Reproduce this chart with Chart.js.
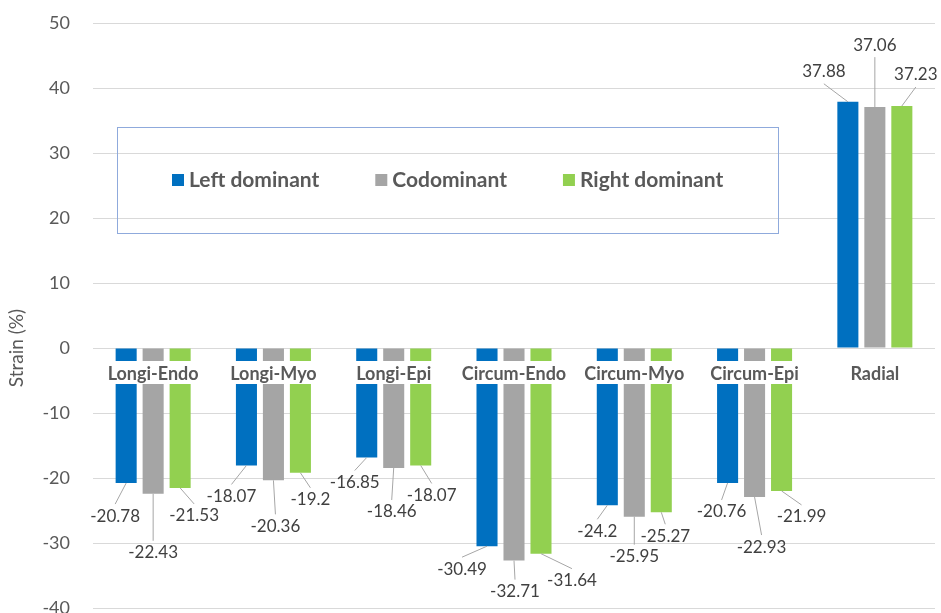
<!DOCTYPE html>
<html>
<head>
<meta charset="utf-8">
<style>
  html, body { margin: 0; padding: 0; background: #fff; }
  #wrap { width: 941px; height: 613px; }
</style>
<script src="https://cdn.jsdelivr.net/npm/chart.js@4.4.1/dist/chart.umd.min.js"></script>
</head>
<body>
<div id="wrap"><canvas id="chart"></canvas></div>
<script>
const categories = ['Longi-Endo', 'Longi-Myo', 'Longi-Epi', 'Circum-Endo', 'Circum-Myo', 'Circum-Epi', 'Radial'];
const leftDominant = [-20.78, -18.07, -16.85, -30.49, -24.2, -20.76, 37.88];
const codominant = [-22.43, -20.36, -18.46, -32.71, -25.95, -22.93, 37.06];
const rightDominant = [-21.53, -19.2, -18.07, -31.64, -25.27, -21.99, 37.23];
const yMin = -40;
const yMax = 50;
const yStep = 10;

// where each data label sits relative to its bar end (manually placed, like the original)
const leftLabelOffsets = [[-11, 33], [-15, 31], [-12, 25], [-25, 23], [-10, 26], [-6, 29], [-24, -30]];
const coLabelOffsets = [[0, 59], [2, 46], [-2, 44], [1, 31], [0, 40], [7, 50], [0, -62]];
const rightLabelOffsets = [[14, 28], [10, 27], [11, 30], [31, 27], [4, 24], [20, 26], [14, -31]];

const FONT = 'Lato, "Open Sans", sans-serif';
const TEXT = '#595959';

const categoryLabels = {
  id: 'categoryLabels',
  afterDatasetsDraw(chart) {
    const { ctx, scales } = chart;
    const y0 = scales.y.getPixelForValue(0);
    ctx.save();
    ctx.font = 'bold 18px ' + FONT;
    ctx.textAlign = 'center';
    ctx.textBaseline = 'middle';
    chart.data.labels.forEach((label, i) => {
      const x = scales.x.getPixelForValue(i);
      const w = ctx.measureText(label).width;
      ctx.fillStyle = '#fff';
      ctx.fillRect(x - w / 2 - 3, y0 + 13, w + 6, 23);
      ctx.fillStyle = TEXT;
      ctx.fillText(label, x, y0 + 26);
    });
    ctx.restore();
  }
};

const dataLabels = {
  id: 'dataLabels',
  afterDatasetsDraw(chart) {
    const { ctx } = chart;
    ctx.save();
    ctx.font = '17px ' + FONT;
    ctx.textAlign = 'center';
    ctx.textBaseline = 'middle';
    chart.data.datasets.forEach((ds, i) => {
      chart.getDatasetMeta(i).data.forEach((bar, j) => {
        const v = ds.data[j];
        const [dx, dy] = ds.labelOffsets[j];
        const lx = bar.x + dx;
        const ly = bar.y + dy;
        const ey = ly - Math.sign(dy) * 12;
        if (Math.hypot(lx - bar.x, ey - bar.y) > 6) {
          ctx.strokeStyle = '#A6A6A6';
          ctx.lineWidth = 1;
          ctx.beginPath();
          ctx.moveTo(bar.x, bar.y);
          ctx.lineTo(lx, ey);
          ctx.stroke();
        }
        ctx.fillStyle = '#404040';
        ctx.fillText(String(v), lx, ly);
      });
    });
    ctx.restore();
  }
};

const boxLegend = {
  id: 'boxLegend',
  afterDraw(chart) {
    const { ctx, chartArea } = chart;
    const left = chartArea.left + 24;
    const top = chartArea.top + 104;
    ctx.save();
    ctx.strokeStyle = '#8FAADC';
    ctx.lineWidth = 1;
    ctx.strokeRect(left + 0.5, top + 0.5, 661, 106);
    ctx.font = 'bold 21px ' + FONT;
    ctx.textBaseline = 'middle';
    let x = left + 55;
    const y = top + 53;
    chart.data.datasets.forEach(ds => {
      ctx.fillStyle = ds.backgroundColor;
      ctx.fillRect(x, y - 6, 12, 12);
      ctx.fillStyle = TEXT;
      ctx.fillText(ds.label, x + 17, y);
      x += 17 + ctx.measureText(ds.label).width + 56;
    });
    ctx.restore();
  }
};

const yTitle = {
  id: 'yTitle',
  afterDraw(chart) {
    const { ctx, scales } = chart;
    ctx.save();
    ctx.translate(17, scales.y.getPixelForValue(0));
    ctx.rotate(-Math.PI / 2);
    ctx.font = '19px ' + FONT;
    ctx.fillStyle = TEXT;
    ctx.textAlign = 'center';
    ctx.textBaseline = 'middle';
    ctx.fillText('Strain (%)', 0, 0);
    ctx.restore();
  }
};

new Chart(document.getElementById('chart'), {
  type: 'bar',
  data: {
    labels: categories,
    datasets: [
      { label: 'Left dominant', data: leftDominant, backgroundColor: '#0070C0', labelOffsets: leftLabelOffsets },
      { label: 'Codominant', data: codominant, backgroundColor: '#A5A5A5', labelOffsets: coLabelOffsets },
      { label: 'Right dominant', data: rightDominant, backgroundColor: '#92D050', labelOffsets: rightLabelOffsets }
    ]
  },
  options: {
    responsive: true,
    maintainAspectRatio: false,
    animation: false,
    categoryPercentage: 0.673,
    barPercentage: 0.78,
    layout: { padding: { top: 23, right: 6, bottom: 5, left: 0 } },
    plugins: {
      legend: { display: false },
      tooltip: { enabled: false }
    },
    scales: {
      x: {
        ticks: { display: false },
        grid: { display: false },
        border: { display: false },
        afterFit: scale => { scale.height = 0; }
      },
      y: {
        min: yMin,
        max: yMax,
        ticks: { stepSize: yStep, color: TEXT, font: { family: FONT, size: 18 }, padding: 23 },
        grid: { color: '#D9D9D9', drawTicks: false },
        border: { display: false },
        afterFit: scale => {
          scale.width = 93;
          scale.paddingTop = 0;
          scale.paddingBottom = 0;
        }
      }
    }
  },
  plugins: [categoryLabels, dataLabels, boxLegend, yTitle]
});
</script>
</body>
</html>
